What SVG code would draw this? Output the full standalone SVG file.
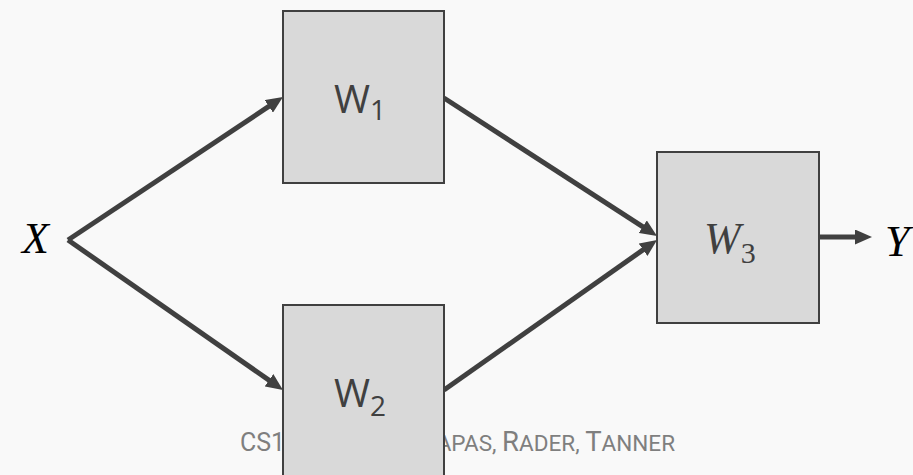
<svg xmlns="http://www.w3.org/2000/svg" width="913" height="475" viewBox="0 0 913 475">
  <defs>
    <marker id="ah" viewBox="0 0 17 15" refX="9" refY="7.5" markerWidth="17" markerHeight="15" markerUnits="userSpaceOnUse" orient="auto">
      <path d="M0,0 L17,7.5 L0,15 z" fill="#404040"/>
    </marker>
    <style>
      .box { fill: #d9d9d9; stroke: #404040; stroke-width: 2; }
      .edge { stroke: #404040; stroke-width: 5; fill: none; marker-end: url(#ah); }
      .lbl { font-family: "Open Sans", "Liberation Sans", sans-serif; fill: #404040; }
      .math { font-family: "Liberation Serif", "DejaVu Serif", serif; font-style: italic; }
      .foot { font-family: Roboto, "Liberation Sans", sans-serif; fill: #7f7f7f; }
    </style>
  </defs>
  <rect width="913" height="475" fill="#f9f9f9"/>

  <g id="footer" class="foot">
    <text x="240" y="451" font-size="25">CS1</text>
    <text x="675" y="451" text-anchor="end" font-size="22.5"><tspan font-size="27.5">P</tspan>APAS, <tspan font-size="27.5">R</tspan>ADER, <tspan font-size="27.5">T</tspan>ANNER</text>
  </g>

  <g id="connectors">
    <line class="edge" x1="68" y1="240" x2="276.3" y2="101.4"/>
    <line class="edge" x1="68" y1="240" x2="276.4" y2="385.4"/>
    <line class="edge" x1="444" y1="98" x2="650.3" y2="231.6"/>
    <line class="edge" x1="444" y1="390" x2="650.5" y2="244.6"/>
    <line class="edge" x1="819" y1="237" x2="864" y2="237"/>
  </g>

  <g id="X">
    <text class="math" x="22" y="253" font-size="44" fill="#000">X</text>
  </g>

  <g id="W1">
    <rect class="box" x="283" y="11" width="161" height="172"/>
    <text class="lbl" x="334" y="113" font-size="39">W<tspan font-size="28" dy="7">1</tspan></text>
  </g>

  <g id="W2">
    <rect class="box" x="283" y="305" width="161" height="180"/>
    <text class="lbl" x="334" y="407" font-size="39">W<tspan font-size="28" dy="9">2</tspan></text>
  </g>

  <g id="W3">
    <rect class="box" x="657" y="152" width="162" height="171"/>
    <text class="math" x="704" y="253" font-size="44" fill="#404040">W<tspan font-size="30" font-style="normal" dy="10">3</tspan></text>
  </g>

  <g id="Y">
    <text class="math" x="885" y="256" font-size="44" fill="#000">Y</text>
  </g>
</svg>
